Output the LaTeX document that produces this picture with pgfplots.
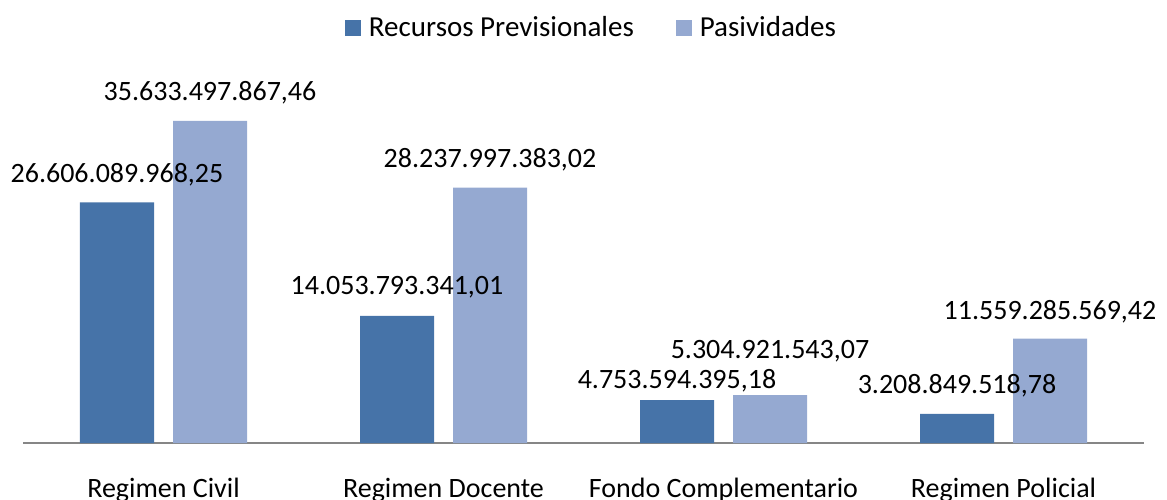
\documentclass[border=0pt]{standalone}
\usepackage{fontspec}
\setmainfont{Carlito}
\usepackage{pgfplots}
\pgfplotsset{compat=1.18}
\usepackage{pgfplotstable}

\definecolor{recursos}{HTML}{4673A8}
\definecolor{pasiv}{HTML}{95A9D1}
\definecolor{axisgray}{HTML}{868686}

% x, value, label text, label offset above bar (pt)
\pgfplotstableread{
x y lab dy
0 26606089968.25 26.606.089.968,25 14
1 14053793341.01 14.053.793.341,01 14.5
2 4753594395.18 4.753.594.395,18 9.5
3 3208849518.78 3.208.849.518,78 14
}\tabrec

\pgfplotstableread{
x y lab dy
0 35633497867.46 35.633.497.867,46 14
1 28237997383.02 28.237.997.383,02 14
2 5304921543.07 5.304.921.543,07 22
3 11559285569.42 11.559.285.569,42 13.5
}\tabpas

\begin{document}
\begin{tikzpicture}
\path[use as bounding box] (-11.75pt,-28pt) rectangle (571.75pt,221.5pt);
\begin{axis}[
  at={(0,0)}, anchor=south west,
  scale only axis, width=560pt, height=180.8pt,
  xmin=-0.5, xmax=3.5, ymin=0, ymax=4e10,
  axis x line*=bottom, axis y line=none,
  axis line style={-, draw=axisgray, line width=1pt},
  xtick={0,1,2,3},
  xticklabels={Regimen Civil, Regimen Docente, Fondo Complementario, Regimen Policial},
  major tick length=0pt,
  xticklabel style={anchor=base, yshift=-27pt, font=\fontsize{14}{16}\selectfont},
  ytick=\empty,
  ybar, bar width=37pt,
  clip=false,
  point meta=explicit symbolic,
  nodes near coords,
  visualization depends on={\thisrow{dy} \as \labdy},
  every node near coord/.append style={anchor=center, yshift=\labdy pt,
    text=black, font=\fontsize{14}{16}\selectfont},
  legend columns=2,
  legend style={at={(0.508,1.149)}, anchor=center, draw=none,
    font=\fontsize{14.5}{16}\selectfont,
    /tikz/every odd column/.append style={column sep=2pt},
    /tikz/every even column/.append style={column sep=19pt}},
  legend image code/.code={\fill[#1] (0pt,-4pt) rectangle (8pt,4pt);},
]
\addplot[fill=recursos, draw=none, bar shift=-23.25pt] table[x=x, y=y, meta=lab] {\tabrec};
\addlegendentry{Recursos Previsionales}
\addplot[fill=pasiv, draw=none, bar shift=23.25pt] table[x=x, y=y, meta=lab] {\tabpas};
\addlegendentry{Pasividades}
\end{axis}
\end{tikzpicture}
\end{document}
